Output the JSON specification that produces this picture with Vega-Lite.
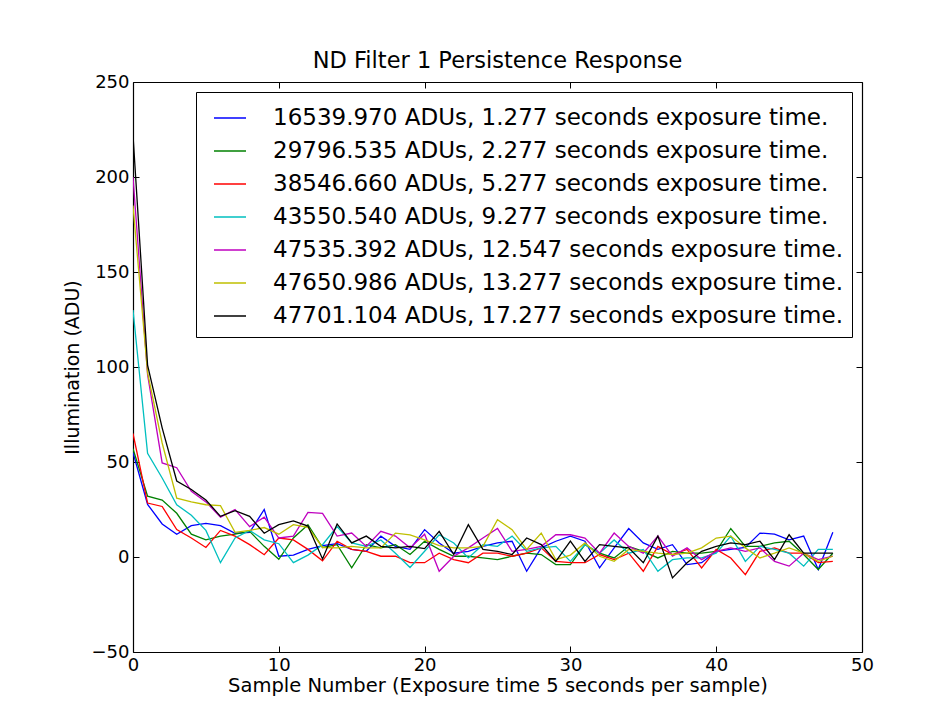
{
  "$schema": "https://vega.github.io/schema/vega-lite/v6.json",
  "autosize": {"type": "none"},
  "padding": {"left": 133, "top": 82, "right": 81, "bottom": 64},
  "width": 729,
  "height": 570,
  "background": "#ffffff",
  "config": {
    "font": "DejaVu Sans",
    "view": {"stroke": null},
    "axis": {"domainColor": "#000000", "tickColor": "#000000", "labelColor": "#000000", "titleColor": "#000000", "grid": false, "labelFont": "DejaVu Sans", "titleFont": "DejaVu Sans", "titleFontWeight": "normal"}
  },
  "title": {"text": "ND Filter 1 Persistence Response", "fontSize": 22.5, "fontWeight": "normal", "font": "DejaVu Sans", "color": "#000000", "offset": 1, "anchor": "middle"},
  "datasets": {
    "series": [
      {"s": 1, "label": "16539.970 ADUs, 1.277 seconds exposure time."},
      {"s": 2, "label": "29796.535 ADUs, 2.277 seconds exposure time."},
      {"s": 3, "label": "38546.660 ADUs, 5.277 seconds exposure time."},
      {"s": 4, "label": "43550.540 ADUs, 9.277 seconds exposure time."},
      {"s": 5, "label": "47535.392 ADUs, 12.547 seconds exposure time."},
      {"s": 6, "label": "47650.986 ADUs, 13.277 seconds exposure time."},
      {"s": 7, "label": "47701.104 ADUs, 17.277 seconds exposure time."}
    ]
  },
  "data": {"values": [
{"s":1,"x":0,"y":55},{"s":1,"x":1,"y":27.7},{"s":1,"x":2,"y":17.4},{"s":1,"x":3,"y":12},{"s":1,"x":4,"y":16.5},{"s":1,"x":5,"y":17.7},{"s":1,"x":6,"y":16.5},{"s":1,"x":7,"y":12.5},{"s":1,"x":8,"y":13},{"s":1,"x":9,"y":25},{"s":1,"x":10,"y":0.4},{"s":1,"x":11,"y":1},{"s":1,"x":12,"y":4},{"s":1,"x":13,"y":6},{"s":1,"x":14,"y":7},{"s":1,"x":15,"y":4},{"s":1,"x":16,"y":3},{"s":1,"x":17,"y":11},{"s":1,"x":18,"y":5.6},{"s":1,"x":19,"y":4},{"s":1,"x":20,"y":14.4},{"s":1,"x":21,"y":7.4},{"s":1,"x":22,"y":2},{"s":1,"x":23,"y":3},{"s":1,"x":24,"y":5.6},{"s":1,"x":25,"y":7.4},{"s":1,"x":26,"y":8.3},{"s":1,"x":27,"y":-7.5},{"s":1,"x":28,"y":4.8},{"s":1,"x":29,"y":8.3},{"s":1,"x":30,"y":11},{"s":1,"x":31,"y":8.3},{"s":1,"x":32,"y":-5.7},{"s":1,"x":33,"y":4.8},{"s":1,"x":34,"y":15},{"s":1,"x":35,"y":7.4},{"s":1,"x":36,"y":4},{"s":1,"x":37,"y":6.5},{"s":1,"x":38,"y":-4},{"s":1,"x":39,"y":-3},{"s":1,"x":40,"y":3},{"s":1,"x":41,"y":4},{"s":1,"x":42,"y":5},{"s":1,"x":43,"y":12.6},{"s":1,"x":44,"y":12},{"s":1,"x":45,"y":9},{"s":1,"x":46,"y":11},{"s":1,"x":47,"y":-6.6},{"s":1,"x":48,"y":13},
{"s":2,"x":0,"y":57},{"s":2,"x":1,"y":32},{"s":2,"x":2,"y":30},{"s":2,"x":3,"y":23},{"s":2,"x":4,"y":12},{"s":2,"x":5,"y":9},{"s":2,"x":6,"y":11},{"s":2,"x":7,"y":12},{"s":2,"x":8,"y":13.5},{"s":2,"x":9,"y":5.6},{"s":2,"x":10,"y":-1.2},{"s":2,"x":11,"y":10},{"s":2,"x":12,"y":17},{"s":2,"x":13,"y":5},{"s":2,"x":14,"y":6.5},{"s":2,"x":15,"y":-5.7},{"s":2,"x":16,"y":6.5},{"s":2,"x":17,"y":4.8},{"s":2,"x":18,"y":6.5},{"s":2,"x":19,"y":1.3},{"s":2,"x":20,"y":8.3},{"s":2,"x":21,"y":4},{"s":2,"x":22,"y":0.4},{"s":2,"x":23,"y":0.4},{"s":2,"x":24,"y":-0.5},{"s":2,"x":25,"y":-1.4},{"s":2,"x":26,"y":0.4},{"s":2,"x":27,"y":2},{"s":2,"x":28,"y":1.3},{"s":2,"x":29,"y":-4},{"s":2,"x":30,"y":-4},{"s":2,"x":31,"y":6.5},{"s":2,"x":32,"y":2},{"s":2,"x":33,"y":-0.5},{"s":2,"x":34,"y":5.6},{"s":2,"x":35,"y":3},{"s":2,"x":36,"y":-0.5},{"s":2,"x":37,"y":3},{"s":2,"x":38,"y":2},{"s":2,"x":39,"y":2},{"s":2,"x":40,"y":3},{"s":2,"x":41,"y":15},{"s":2,"x":42,"y":5.6},{"s":2,"x":43,"y":5.6},{"s":2,"x":44,"y":7.4},{"s":2,"x":45,"y":8.3},{"s":2,"x":46,"y":1.3},{"s":2,"x":47,"y":-6.6},{"s":2,"x":48,"y":2},
{"s":3,"x":0,"y":65},{"s":3,"x":1,"y":28.4},{"s":3,"x":2,"y":26.6},{"s":3,"x":3,"y":14.4},{"s":3,"x":4,"y":10},{"s":3,"x":5,"y":5},{"s":3,"x":6,"y":14},{"s":3,"x":7,"y":11},{"s":3,"x":8,"y":6.5},{"s":3,"x":9,"y":1.2},{"s":3,"x":10,"y":10},{"s":3,"x":11,"y":9},{"s":3,"x":12,"y":4},{"s":3,"x":13,"y":-2},{"s":3,"x":14,"y":8.3},{"s":3,"x":15,"y":4},{"s":3,"x":16,"y":3},{"s":3,"x":17,"y":0.4},{"s":3,"x":18,"y":0.4},{"s":3,"x":19,"y":-3},{"s":3,"x":20,"y":-3},{"s":3,"x":21,"y":2},{"s":3,"x":22,"y":-1.4},{"s":3,"x":23,"y":-3},{"s":3,"x":24,"y":2},{"s":3,"x":25,"y":2},{"s":3,"x":26,"y":0.4},{"s":3,"x":27,"y":2},{"s":3,"x":28,"y":4.8},{"s":3,"x":29,"y":-2.3},{"s":3,"x":30,"y":-3},{"s":3,"x":31,"y":-3},{"s":3,"x":32,"y":1.3},{"s":3,"x":33,"y":-1.4},{"s":3,"x":34,"y":2},{"s":3,"x":35,"y":-7.5},{"s":3,"x":36,"y":5.6},{"s":3,"x":37,"y":1.3},{"s":3,"x":38,"y":4},{"s":3,"x":39,"y":-5.7},{"s":3,"x":40,"y":4},{"s":3,"x":41,"y":-0.5},{"s":3,"x":42,"y":-9.3},{"s":3,"x":43,"y":3},{"s":3,"x":44,"y":4.8},{"s":3,"x":45,"y":2},{"s":3,"x":46,"y":2},{"s":3,"x":47,"y":-3},{"s":3,"x":48,"y":-2.3},
{"s":4,"x":0,"y":130},{"s":4,"x":1,"y":54.6},{"s":4,"x":2,"y":41.6},{"s":4,"x":3,"y":27.5},{"s":4,"x":4,"y":22},{"s":4,"x":5,"y":14},{"s":4,"x":6,"y":-3},{"s":4,"x":7,"y":10},{"s":4,"x":8,"y":14},{"s":4,"x":9,"y":9},{"s":4,"x":10,"y":7},{"s":4,"x":11,"y":-3},{"s":4,"x":12,"y":1},{"s":4,"x":13,"y":6.5},{"s":4,"x":14,"y":16},{"s":4,"x":15,"y":7.4},{"s":4,"x":16,"y":5.6},{"s":4,"x":17,"y":9},{"s":4,"x":18,"y":2},{"s":4,"x":19,"y":-5.5},{"s":4,"x":20,"y":3},{"s":4,"x":21,"y":11.7},{"s":4,"x":22,"y":7.4},{"s":4,"x":23,"y":-0.5},{"s":4,"x":24,"y":6.5},{"s":4,"x":25,"y":5.6},{"s":4,"x":26,"y":11},{"s":4,"x":27,"y":3},{"s":4,"x":28,"y":4.8},{"s":4,"x":29,"y":5.6},{"s":4,"x":30,"y":-2.3},{"s":4,"x":31,"y":6.5},{"s":4,"x":32,"y":2},{"s":4,"x":33,"y":9},{"s":4,"x":34,"y":2},{"s":4,"x":35,"y":4},{"s":4,"x":36,"y":-7.5},{"s":4,"x":37,"y":-1.4},{"s":4,"x":38,"y":-0.5},{"s":4,"x":39,"y":-0.5},{"s":4,"x":40,"y":2},{"s":4,"x":41,"y":11},{"s":4,"x":42,"y":-2.3},{"s":4,"x":43,"y":5.6},{"s":4,"x":44,"y":4},{"s":4,"x":45,"y":2},{"s":4,"x":46,"y":-4.8},{"s":4,"x":47,"y":4},{"s":4,"x":48,"y":4},
{"s":5,"x":0,"y":200},{"s":5,"x":1,"y":96},{"s":5,"x":2,"y":49.5},{"s":5,"x":3,"y":47},{"s":5,"x":4,"y":34.6},{"s":5,"x":5,"y":29},{"s":5,"x":6,"y":21},{"s":5,"x":7,"y":25},{"s":5,"x":8,"y":16},{"s":5,"x":9,"y":21},{"s":5,"x":10,"y":10},{"s":5,"x":11,"y":11},{"s":5,"x":12,"y":23.5},{"s":5,"x":13,"y":23},{"s":5,"x":14,"y":11},{"s":5,"x":15,"y":12.6},{"s":5,"x":16,"y":5.6},{"s":5,"x":17,"y":13.5},{"s":5,"x":18,"y":11},{"s":5,"x":19,"y":4.8},{"s":5,"x":20,"y":12},{"s":5,"x":21,"y":-7.5},{"s":5,"x":22,"y":0.4},{"s":5,"x":23,"y":4.8},{"s":5,"x":24,"y":10},{"s":5,"x":25,"y":15},{"s":5,"x":26,"y":3},{"s":5,"x":27,"y":4},{"s":5,"x":28,"y":5.6},{"s":5,"x":29,"y":11.7},{"s":5,"x":30,"y":11.7},{"s":5,"x":31,"y":10},{"s":5,"x":32,"y":2},{"s":5,"x":33,"y":12.6},{"s":5,"x":34,"y":5.6},{"s":5,"x":35,"y":2},{"s":5,"x":36,"y":11},{"s":5,"x":37,"y":0.4},{"s":5,"x":38,"y":4.8},{"s":5,"x":39,"y":-1.4},{"s":5,"x":40,"y":3},{"s":5,"x":41,"y":4.8},{"s":5,"x":42,"y":3},{"s":5,"x":43,"y":4.8},{"s":5,"x":44,"y":-2.3},{"s":5,"x":45,"y":-4.8},{"s":5,"x":46,"y":2},{"s":5,"x":47,"y":-1.4},{"s":5,"x":48,"y":0.4},
{"s":6,"x":0,"y":185},{"s":6,"x":1,"y":97},{"s":6,"x":2,"y":60},{"s":6,"x":3,"y":31},{"s":6,"x":4,"y":29},{"s":6,"x":5,"y":27.5},{"s":6,"x":6,"y":27},{"s":6,"x":7,"y":13},{"s":6,"x":8,"y":14},{"s":6,"x":9,"y":15.5},{"s":6,"x":10,"y":12},{"s":6,"x":11,"y":17},{"s":6,"x":12,"y":15.6},{"s":6,"x":13,"y":5},{"s":6,"x":14,"y":4.8},{"s":6,"x":15,"y":5.6},{"s":6,"x":16,"y":4.8},{"s":6,"x":17,"y":4.8},{"s":6,"x":18,"y":12.6},{"s":6,"x":19,"y":11.7},{"s":6,"x":20,"y":9},{"s":6,"x":21,"y":6},{"s":6,"x":22,"y":4.8},{"s":6,"x":23,"y":4.8},{"s":6,"x":24,"y":5.6},{"s":6,"x":25,"y":19.6},{"s":6,"x":26,"y":14.4},{"s":6,"x":27,"y":4},{"s":6,"x":28,"y":12.6},{"s":6,"x":29,"y":-1.4},{"s":6,"x":30,"y":1},{"s":6,"x":31,"y":7.4},{"s":6,"x":32,"y":0.4},{"s":6,"x":33,"y":-2.3},{"s":6,"x":34,"y":4},{"s":6,"x":35,"y":3},{"s":6,"x":36,"y":2},{"s":6,"x":37,"y":1.3},{"s":6,"x":38,"y":2},{"s":6,"x":39,"y":4.8},{"s":6,"x":40,"y":10},{"s":6,"x":41,"y":11},{"s":6,"x":42,"y":4.8},{"s":6,"x":43,"y":-0.5},{"s":6,"x":44,"y":2},{"s":6,"x":45,"y":4.8},{"s":6,"x":46,"y":2},{"s":6,"x":47,"y":-2.3},{"s":6,"x":48,"y":0.4},
{"s":7,"x":0,"y":222},{"s":7,"x":1,"y":101},{"s":7,"x":2,"y":68},{"s":7,"x":3,"y":40},{"s":7,"x":4,"y":35.5},{"s":7,"x":5,"y":30},{"s":7,"x":6,"y":21.4},{"s":7,"x":7,"y":24.4},{"s":7,"x":8,"y":21.4},{"s":7,"x":9,"y":12.5},{"s":7,"x":10,"y":17},{"s":7,"x":11,"y":19},{"s":7,"x":12,"y":16.3},{"s":7,"x":13,"y":-1},{"s":7,"x":14,"y":17.4},{"s":7,"x":15,"y":7.4},{"s":7,"x":16,"y":11},{"s":7,"x":17,"y":5.6},{"s":7,"x":18,"y":4.8},{"s":7,"x":19,"y":5.6},{"s":7,"x":20,"y":4.4},{"s":7,"x":21,"y":13.5},{"s":7,"x":22,"y":1.3},{"s":7,"x":23,"y":17},{"s":7,"x":24,"y":4},{"s":7,"x":25,"y":3},{"s":7,"x":26,"y":1.3},{"s":7,"x":27,"y":10},{"s":7,"x":28,"y":6.5},{"s":7,"x":29,"y":-2.3},{"s":7,"x":30,"y":8.3},{"s":7,"x":31,"y":-2.3},{"s":7,"x":32,"y":6.5},{"s":7,"x":33,"y":5.6},{"s":7,"x":34,"y":4.8},{"s":7,"x":35,"y":-3},{"s":7,"x":36,"y":11},{"s":7,"x":37,"y":-11},{"s":7,"x":38,"y":-3},{"s":7,"x":39,"y":3},{"s":7,"x":40,"y":5.6},{"s":7,"x":41,"y":7.4},{"s":7,"x":42,"y":6.5},{"s":7,"x":43,"y":8.3},{"s":7,"x":44,"y":-1.4},{"s":7,"x":45,"y":11.7},{"s":7,"x":46,"y":2},{"s":7,"x":47,"y":2},{"s":7,"x":48,"y":2}
  ]},
  "transform": [
    {"lookup": "s", "from": {"data": {"name": "series"}, "key": "s", "fields": ["label"]}}
  ],
  "layer": [
    {
      "mark": {"type": "line", "strokeWidth": 1.3, "clip": true},
      "encoding": {
        "x": {"field": "x", "type": "quantitative", "scale": {"domain": [0, 50], "nice": false, "zero": false},
          "axis": {"orient": "bottom", "values": [0, 10, 20, 30, 40, 50], "tickSize": -6, "labelPadding": 10, "labelFontSize": 18, "title": "Sample Number (Exposure time 5 seconds per sample)", "titleFontSize": 19.5, "titlePadding": 2, "domainWidth": 1.2, "labelFlush": false}},
        "y": {"field": "y", "type": "quantitative", "scale": {"domain": [-50, 250], "nice": false, "zero": false},
          "axis": {"orient": "left", "values": [-50, 0, 50, 100, 150, 200, 250], "tickSize": -6, "labelPadding": 10, "labelFontSize": 18, "title": "Illumination (ADU)", "titleFontSize": 19, "titlePadding": 9, "domainWidth": 1.2}},
        "color": {"field": "label", "type": "nominal",
          "scale": {"domain": [
            "16539.970 ADUs, 1.277 seconds exposure time.",
            "29796.535 ADUs, 2.277 seconds exposure time.",
            "38546.660 ADUs, 5.277 seconds exposure time.",
            "43550.540 ADUs, 9.277 seconds exposure time.",
            "47535.392 ADUs, 12.547 seconds exposure time.",
            "47650.986 ADUs, 13.277 seconds exposure time.",
            "47701.104 ADUs, 17.277 seconds exposure time."],
            "range": ["#0000ff", "#008000", "#ff0000", "#00bfbf", "#bf00bf", "#bfbf00", "#000000"]},
          "legend": {"orient": "top-right", "offset": 10, "title": null, "symbolType": "stroke", "symbolSize": 1024, "symbolStrokeWidth": 1.5, "symbolOpacity": 1, "labelFontSize": 23, "labelFont": "DejaVu Sans", "labelColor": "#000000", "labelLimit": 800, "labelOffset": 26, "rowPadding": 4, "padding": 9, "fillColor": "#ffffff", "strokeColor": "#000000", "cornerRadius": 0, "symbolOffset": 8}},
        "detail": {"field": "s", "type": "nominal"}
      }
    },
    {
      "mark": {"type": "point", "opacity": 0},
      "encoding": {
        "x": {"field": "x", "type": "quantitative", "axis": {"orient": "top", "values": [0, 10, 20, 30, 40, 50], "tickSize": -6, "labels": false, "title": null, "domainWidth": 1.2}},
        "y": {"field": "y", "type": "quantitative", "axis": {"orient": "right", "values": [-50, 0, 50, 100, 150, 200, 250], "tickSize": -6, "labels": false, "title": null, "domainWidth": 1.2}}
      }
    }
  ],
  "resolve": {"axis": {"x": "independent", "y": "independent"}}
}
